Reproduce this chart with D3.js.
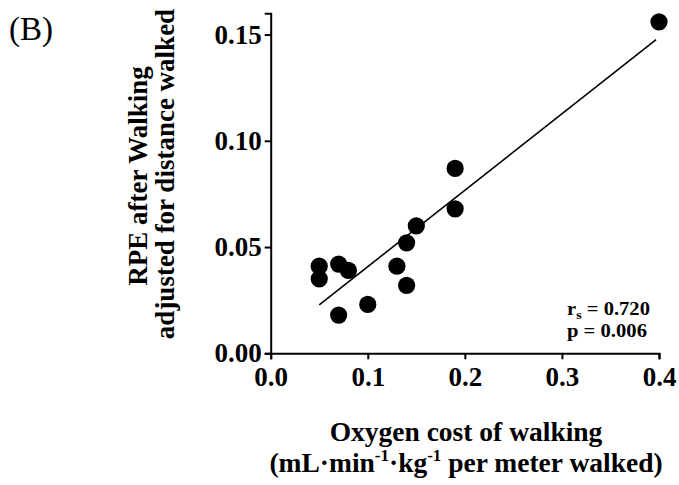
<!DOCTYPE html>
<html>
<head>
<meta charset="utf-8">
<script src="https://cdn.jsdelivr.net/npm/d3@7"></script>
<style>
  html, body { margin: 0; padding: 0; background: #fff; }
  svg { display: block; }
  text { font-family: "Liberation Serif", "Times New Roman", serif; fill: #000; }
</style>
</head>
<body>
<svg id="chart" width="679" height="485"></svg>
<script>
// Oxygen cost of walking (mL·min^-1·kg^-1 per meter walked)
const oxygenCost = [0.40, 0.19, 0.19, 0.15, 0.14, 0.13, 0.14, 0.10, 0.07, 0.05, 0.05, 0.07, 0.08];
// RPE after walking, adjusted for distance walked
const rpeAdjusted = [0.156, 0.087, 0.068, 0.060, 0.052, 0.041, 0.032, 0.023, 0.018, 0.041, 0.035, 0.042, 0.039];
// Fitted trend line end points
const fitX = [0.05, 0.397];
const fitY = [0.0228, 0.1476];
const xTicks = [0.0, 0.1, 0.2, 0.3, 0.4];
const yTicks = [0.00, 0.05, 0.10, 0.15];
const statLines = [["r", "s", " = 0.720"], ["p", "", " = 0.006"]];

const svg = d3.select("#chart");
const x = d3.scaleLinear().domain([0, 0.4]).range([270.7, 659]);
const y = d3.scaleLinear().domain([0, 0.16]).range([353.3, 13.3]);

// Panel label
svg.append("text").attr("x", 9).attr("y", 40)
  .style("font-size", "33px").text("(B)");

// Axes
const xAxis = svg.append("g").attr("transform", `translate(0,${y(0)})`)
  .call(d3.axisBottom(x).tickValues(xTicks).tickFormat(d3.format(".1f"))
    .tickSizeOuter(0).tickSize(6).tickPadding(8));
const yAxis = svg.append("g").attr("transform", `translate(${x(0)},0)`)
  .call(d3.axisLeft(y).tickValues(yTicks).tickFormat(d3.format(".2f"))
    .tickSizeOuter(0).tickSize(6).tickPadding(3));

[xAxis, yAxis].forEach(g => {
  g.select(".domain").attr("stroke", "#000").attr("stroke-width", 2);
  g.selectAll(".tick line").attr("stroke", "#000").attr("stroke-width", 2);
  g.selectAll(".tick text").attr("fill", "#000")
    .style("font-family", '"Liberation Serif", "Times New Roman", serif')
    .style("font-size", "27px").style("font-weight", "bold");
});

// Trend line
svg.append("line")
  .attr("x1", x(fitX[0])).attr("y1", y(fitY[0]))
  .attr("x2", x(fitX[1])).attr("y2", y(fitY[1]))
  .attr("stroke", "#000").attr("stroke-width", 1.6);

// Points
svg.append("g").selectAll("circle")
  .data(oxygenCost.map((v, i) => [v, rpeAdjusted[i]]))
  .join("circle")
  .attr("cx", d => x(d[0])).attr("cy", d => y(d[1]))
  .attr("r", 8.6).attr("fill", "#000");

// Correlation statistics, widened to their box width
const stats = svg.append("g").style("font-size", "19px").style("font-weight", "bold");
const statLeft = 567;
const statWidths = [83, 80];
statLines.forEach((s, i) => {
  const t = stats.append("text").attr("x", statLeft).attr("y", 315 + i * 22);
  t.append("tspan").text(s[0]);
  if (s[1]) t.append("tspan").attr("dy", 4).style("font-size", "13px").text(s[1]);
  t.append("tspan").attr("dy", s[1] ? -4 : 0).text(s[2]);
  const w = t.node().getBBox().width;
  const k = statWidths[i] / w;
  t.attr("transform", `translate(${statLeft},0) scale(${k},1) translate(${-statLeft},0)`);
});

// X axis title
const xt = svg.append("g").style("font-size", "27.5px").style("font-weight", "bold")
  .attr("text-anchor", "middle");
xt.append("text").attr("x", 466).attr("y", 441).text("Oxygen cost of walking");
const xt2 = xt.append("text").attr("x", 466).attr("y", 472);
xt2.append("tspan").text("(mL·min");
xt2.append("tspan").attr("dy", -11).style("font-size", "17px").text("-1");
xt2.append("tspan").attr("dy", 11).text("·kg");
xt2.append("tspan").attr("dy", -11).style("font-size", "17px").text("-1");
xt2.append("tspan").attr("dy", 11).text(" per meter walked)");

// Y axis title
const yt = svg.append("g").style("font-size", "27px").style("font-weight", "bold")
  .attr("text-anchor", "middle");
yt.append("text").attr("transform", "translate(147,176) rotate(-90)").text("RPE after Walking");
yt.append("text").attr("transform", "translate(174,174) rotate(-90)").text("adjusted for distance walked");
</script>
</body>
</html>
